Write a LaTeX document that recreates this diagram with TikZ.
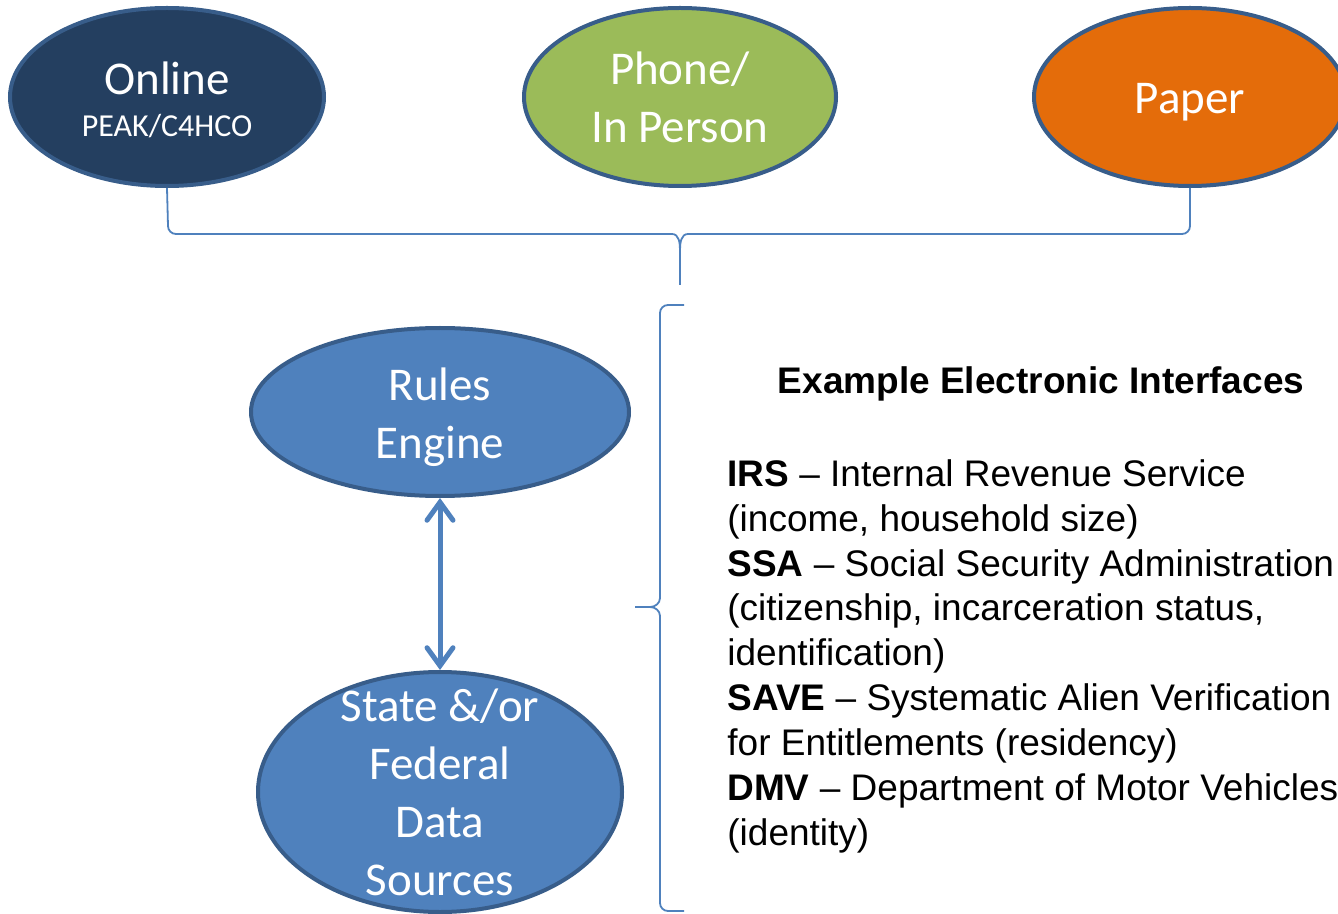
\documentclass[tikz,border=0pt]{standalone}
\usepackage{fontspec}
\setmainfont{Carlito}
\newfontfamily\arialfont{Liberation Sans}
\usetikzlibrary{arrows.meta,shapes.geometric}
\definecolor{navyfill}{HTML}{243F60}
\definecolor{edgeblue}{HTML}{385D8A}
\definecolor{greenfill}{HTML}{9BBB59}
\definecolor{orangefill}{HTML}{E46C0A}
\definecolor{bluefill}{HTML}{4F81BD}
\begin{document}
\begin{tikzpicture}[x=0.5pt,y=-0.5pt,
  bubble/.style={ellipse,draw=edgeblue,line width=2pt,inner sep=0pt},
  bubtext/.style={text=white,align=center,inner sep=0pt,font=\fontsize{23.5}{29}\selectfont},
  brace/.style={draw=bluefill,line width=0.9pt},
  link/.style={draw=bluefill,line width=2.5pt,line cap=round,
    {Straight Barb[length=9pt,width=13pt,line cap=round]}-{Straight Barb[length=9pt,width=13pt,line cap=round]}},
  infotext/.style={font=\arialfont\fontsize{18.5}{22.45}\selectfont,align=left,inner sep=0pt}]
 \useasboundingbox (0,0) rectangle (1338,914);
 % top row
 \node[bubble,fill=navyfill,minimum width=157pt,minimum height=89pt,
   label={[bubtext,yshift=-1.5pt]center:Online\\[-8pt]{\fontsize{16}{19}\selectfont PEAK/C4HCO}}] (online) at (167,97) {};
 \node[bubble,fill=greenfill,minimum width=156pt,minimum height=89pt,
   label={[bubtext]center:Phone/\\In Person}] (phone) at (680,97) {};
 \node[bubble,fill=orangefill,minimum width=156pt,minimum height=89pt,
   label={[bubtext,yshift=-2.5pt]center:Paper}] (paper) at (1190,97) {};
 % left column
 \node[bubble,fill=bluefill,minimum width=189pt,minimum height=84pt,
   label={[bubtext,yshift=-2.5pt]center:Rules\\Engine}] (rules) at (440,412) {};
 \node[bubble,fill=bluefill,minimum width=182pt,minimum height=120pt,
   label={[bubtext]center:State \&/or\\Federal\\Data\\Sources}] (sources) at (440,792) {};
 \draw[link] (rules.south) -- (sources.north);
 % brace under the top row
 \draw[brace] (online.south) -- (168,226) to[out=-90,in=180] (176,234) -- (672,234)
   to[out=0,in=90] (680,250) -- (680,285);
 \draw[brace] (paper.south) -- (1190,226) to[out=-90,in=0] (1182,234) -- (688,234)
   to[out=180,in=90] (680,250);
 % brace beside the list
 \draw[brace] (684,305) -- (668,305) to[out=180,in=90] (660,313) -- (660,598)
   to[out=-90,in=0] (650,607) -- (635,607);
 \draw[brace] (650,607) to[out=0,in=90] (660,616) -- (660,903)
   to[out=-90,in=180] (668,911) -- (684,911);
 % list of interfaces
 \node[infotext,font=\arialfont\bfseries\fontsize{18.5}{22.5}\selectfont] (title) at (1041,384) {Example Electronic Interfaces};
 \node[infotext,anchor=north west] (ifaces) at (727,459) {\textbf{IRS} – Internal Revenue Service\\
   (income, household size)\\
   \textbf{SSA} – Social Security Administration\\
   (citizenship, incarceration status,\\
   identification)\\
   \textbf{SAVE} – Systematic Alien Verification\\
   for Entitlements (residency)\\
   \textbf{DMV} – Department of Motor Vehicles\\
   (identity)};
\end{tikzpicture}
\end{document}
